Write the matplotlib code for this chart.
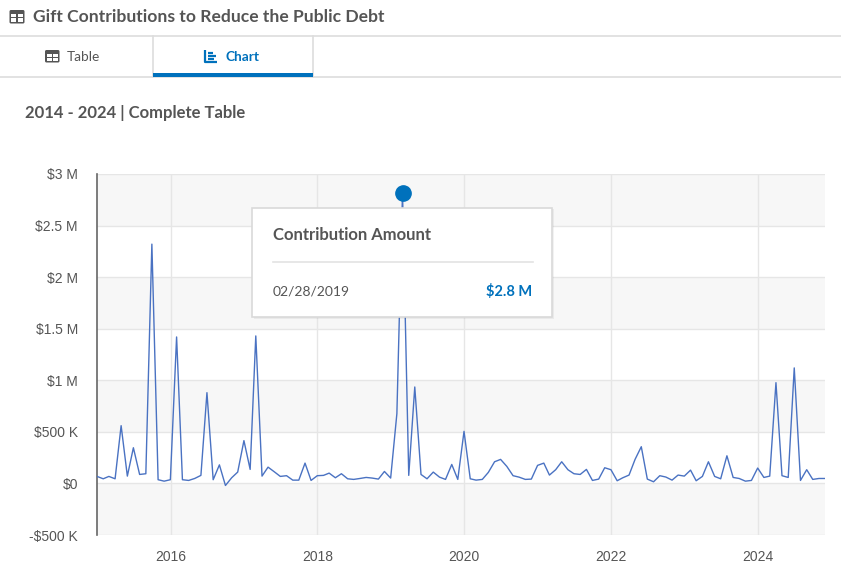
import matplotlib
matplotlib.use('Agg')
import matplotlib.pyplot as plt
import matplotlib.dates as mdates
from matplotlib.patches import Rectangle, FancyBboxPatch, Circle
import pandas as pd

# ---------------- data ----------------
title = "Gift Contributions to Reduce the Public Debt"
subtitle = "2014 - 2024 | Complete Table"
tab_labels = ["Table", "Chart"]
first_month_end = "2014-12-31"
# monthly contribution amounts, in thousands of dollars (month-end dates)
amounts_2014 = [68]
amounts_2015 = [45, 68, 45, 560, 71, 346, 87, 94, 2320, 36, 22, 36]
amounts_2016 = [1420, 36, 29, 48, 78, 880, 36, 180, -20, 55, 110, 415]
amounts_2017 = [136, 1430, 71, 158, 113, 68, 75, 32, 32, 197, 29, 75]
amounts_2018 = [78, 100, 55, 94, 45, 39, 48, 58, 52, 42, 116, 52]
amounts_2019 = [677, 2820, 78, 935, 87, 45, 110, 61, 39, 184, 39, 505]
amounts_2020 = [45, 32, 39, 107, 210, 233, 165, 75, 61, 39, 42, 175]
amounts_2021 = [197, 81, 133, 210, 133, 94, 87, 136, 29, 42, 152, 133]
amounts_2022 = [26, 55, 81, 233, 356, 42, 16, 75, 62, 32, 81, 71]
amounts_2023 = [129, 26, 68, 210, 68, 45, 268, 58, 48, 22, 29, 149]
amounts_2024 = [58, 71, 977, 75, 58, 1120, 29, 133, 39, 48, 48]
y_ticks = [-500, 0, 500, 1000, 1500, 2000, 2500, 3000]
y_tick_labels = ["-$500 K", "$0", "$500 K", "$1 M", "$1.5 M", "$2 M", "$2.5 M", "$3 M"]
x_tick_years = [2016, 2018, 2020, 2022, 2024]
tooltip_title = "Contribution Amount"
tooltip_date = "02/28/2019"
tooltip_value = "$2.8 M"
highlight_index = 50  # Feb 2019

amounts = (amounts_2014 + amounts_2015 + amounts_2016 + amounts_2017 + amounts_2018 +
           amounts_2019 + amounts_2020 + amounts_2021 + amounts_2022 + amounts_2023 +
           amounts_2024)
dates = pd.date_range(first_month_end, periods=len(amounts), freq="ME")

# ---------------- figure ----------------
W, H = 841, 573
fig = plt.figure(figsize=(W / 100, H / 100), dpi=100)
fig.patch.set_facecolor("white")

TXT = "#555555"
BLUE = "#0071bc"
LINE = "#4a72c2"
HEAD_FONT = ["Lato", "DejaVu Sans"]
TICK_FONT = ["Liberation Sans", "DejaVu Sans"]

# background overlay (pixel coordinates, y downward)
bg = fig.add_axes([0, 0, 1, 1])
bg.set_xlim(0, W)
bg.set_ylim(H, 0)
bg.axis("off")
bg.set_zorder(0)


def table_icon(ax, x0, y0, w, h, color):
    ax.add_patch(FancyBboxPatch((x0, y0), w, h, boxstyle="round,pad=0,rounding_size=1.5",
                                fc=color, ec="none"))
    cw = (w - 5) / 2
    ch = (h - 6.5) / 2
    for cx in (x0 + 1.8, x0 + 1.8 + cw + 1.4):
        for cy in (y0 + 3.5, y0 + 3.5 + ch + 1.2):
            ax.add_patch(Rectangle((cx, cy), cw, ch, fc="white", ec="none"))


table_icon(bg, 9.5, 10.0, 15, 13.5, TXT)
bg.text(33, 17, title, fontsize=12.6, fontweight="bold", color=TXT, family=HEAD_FONT,
        va="center", ha="left")

# tab bar lines
bg.plot([0, W], [35.5, 35.5], color="#dddddd", lw=1.2)
bg.plot([0, W], [76.5, 76.5], color="#dddddd", lw=1.2)
bg.plot([153, 153], [35.5, 76.5], color="#dddddd", lw=1.2)
bg.plot([313, 313], [35.5, 76.5], color="#dddddd", lw=1.2)
bg.add_patch(Rectangle((153, 73), 160, 3.5, fc=BLUE, ec="none", zorder=3))

table_icon(bg, 45, 50, 14.5, 12.5, TXT)
bg.text(67, 57, tab_labels[0], fontsize=9.8, color=TXT, family=HEAD_FONT, va="center", ha="left")

# chart icon
bg.plot([205.5, 205.5, 217.5], [50, 62, 62], color=BLUE, lw=1.6, solid_capstyle="butt")
for yy, x1 in ((53, 213.5), (56, 216.5), (59, 214.5)):
    bg.plot([208.5, x1], [yy, yy], color=BLUE, lw=1.6, solid_capstyle="butt")
bg.text(226, 57, tab_labels[1], fontsize=9.8, fontweight="bold", color=BLUE, family=HEAD_FONT,
        va="center", ha="left")

bg.text(25, 113, subtitle, fontsize=12, fontweight="bold", color=TXT, family=HEAD_FONT,
        va="center", ha="left")

# ---------------- plot ----------------
L, R, T, B = 97, 825, 174, 535
ax = fig.add_axes([L / W, (H - B) / H, (R - L) / W, (B - T) / H])
ax.set_zorder(1)
ax.set_facecolor("white")

for lo in (-500, 500, 1500, 2500):
    ax.axhspan(lo, lo + 500, color="#f7f7f7", zorder=0, lw=0)

ax.plot(dates, amounts, color=LINE, lw=1.0, zorder=3)

ax.set_xlim(dates[0], dates[-1])
ax.set_ylim(-500, 3000)
ax.set_yticks(y_ticks)
ax.set_yticklabels(y_tick_labels)
ax.set_xticks([pd.Timestamp(f"{y}-01-01") for y in x_tick_years])
ax.set_xticklabels([str(y) for y in x_tick_years])
ax.grid(True, color="#e6e6e6", lw=1.0, zorder=1)
ax.set_axisbelow(True)
ax.tick_params(axis="both", length=0, labelsize=10, labelcolor=TXT)
ax.tick_params(axis="y", pad=13.7)
ax.tick_params(axis="x", pad=10.5)
for lab in ax.get_xticklabels() + ax.get_yticklabels():
    lab.set_family(TICK_FONT)
for s in ("top", "right", "bottom"):
    ax.spines[s].set_visible(False)
ax.spines["left"].set_color("#666666")
ax.spines["left"].set_linewidth(1.2)

# ---------------- tooltip ----------------
fg = fig.add_axes([0, 0, 1, 1])
fg.set_xlim(0, W)
fg.set_ylim(H, 0)
fg.axis("off")
fg.set_zorder(2)
fg.patch.set_visible(False)

# shadow + box
fg.add_patch(Rectangle((254, 209), 300, 110, fc="#000000", alpha=0.05, ec="none"))
fg.add_patch(Rectangle((252.5, 207.5), 300, 109.5, fc="white", ec="#d9d9d9", lw=1.2))
fg.text(273, 235.5, tooltip_title, fontsize=12, fontweight="bold", color=TXT, family=HEAD_FONT,
        va="center", ha="left")
fg.plot([273, 533], [262, 262], color="#e3e3e3", lw=1.2)
fg.text(273, 292, tooltip_date, fontsize=10, color=TXT, family=HEAD_FONT, va="center", ha="left")
fg.text(532, 292, tooltip_value, fontsize=10.5, fontweight="bold", color=BLUE, family=HEAD_FONT,
        va="center", ha="right")

# highlighted point marker (in data coords of main axes, drawn above tooltip)
ax.plot([dates[highlight_index]], [amounts[highlight_index]], "o", color=BLUE, ms=11,
        zorder=5, clip_on=False)

fig.savefig("out.png", dpi=100, facecolor="white")
